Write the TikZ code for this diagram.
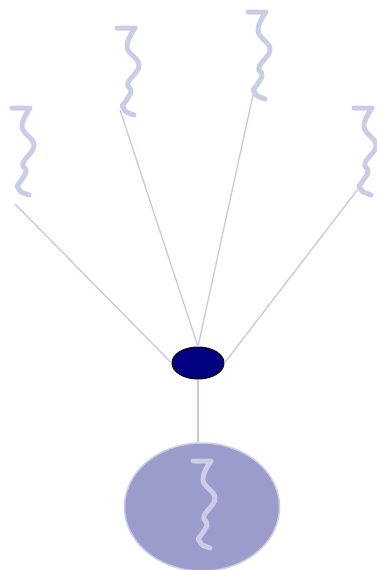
\documentclass[tikz,border=0pt]{standalone}
\usetikzlibrary{shapes.geometric}

\definecolor{lavender}{RGB}{204,204,230}
\definecolor{wire}{RGB}{200,200,226}
\definecolor{bulb}{RGB}{155,155,204}
\definecolor{hubblue}{RGB}{0,0,128}

\tikzset{
  squig/.style={draw=lavender,line width=5pt,line cap=round,line join=round},
  wirebox/.style={draw=wire,line width=1.3pt},
  wiggle/.pic={
    \draw[squig] (0,3) -- (18,3)
      plot[smooth,tension=0.7] coordinates {(18,3) (10,22) (22,40) (11,58) (14,67) (5,81)}
      -- (9,87) -- (17,90);
  }
}

\begin{document}
\begin{tikzpicture}[x=1pt,y=-1pt]
\useasboundingbox (0,0) rectangle (377,570);

% wiggles on top
\pic at (12,105) {wiggle};
\pic at (117,25) {wiggle};
\pic at (248,9) {wiggle};
\pic at (354,105) {wiggle};

\coordinate (w1) at (15,204);
\coordinate (w2) at (120,110);
\coordinate (w3) at (253,95);
\coordinate (w4) at (358,189);

% hub and bulb
\node[ellipse,draw=black,fill=hubblue,line width=1pt,minimum width=52pt,minimum height=32pt,inner sep=0pt] (hub) at (198,363) {};
\node[ellipse,draw=lavender,fill=bulb,line width=1.5pt,minimum width=155pt,minimum height=128pt,inner sep=0pt] (bulb) at (202,507) {};
\pic at (193,458) {wiggle};

\draw[wirebox] (w1) -- (hub.west);
\draw[wirebox] (w2) -- (hub.north);
\draw[wirebox] (w3) -- (hub.north);
\draw[wirebox] (w4) -- (hub.east);
\draw[wirebox] (hub.south) -- (hub.south |- bulb.north);
\end{tikzpicture}
\end{document}
